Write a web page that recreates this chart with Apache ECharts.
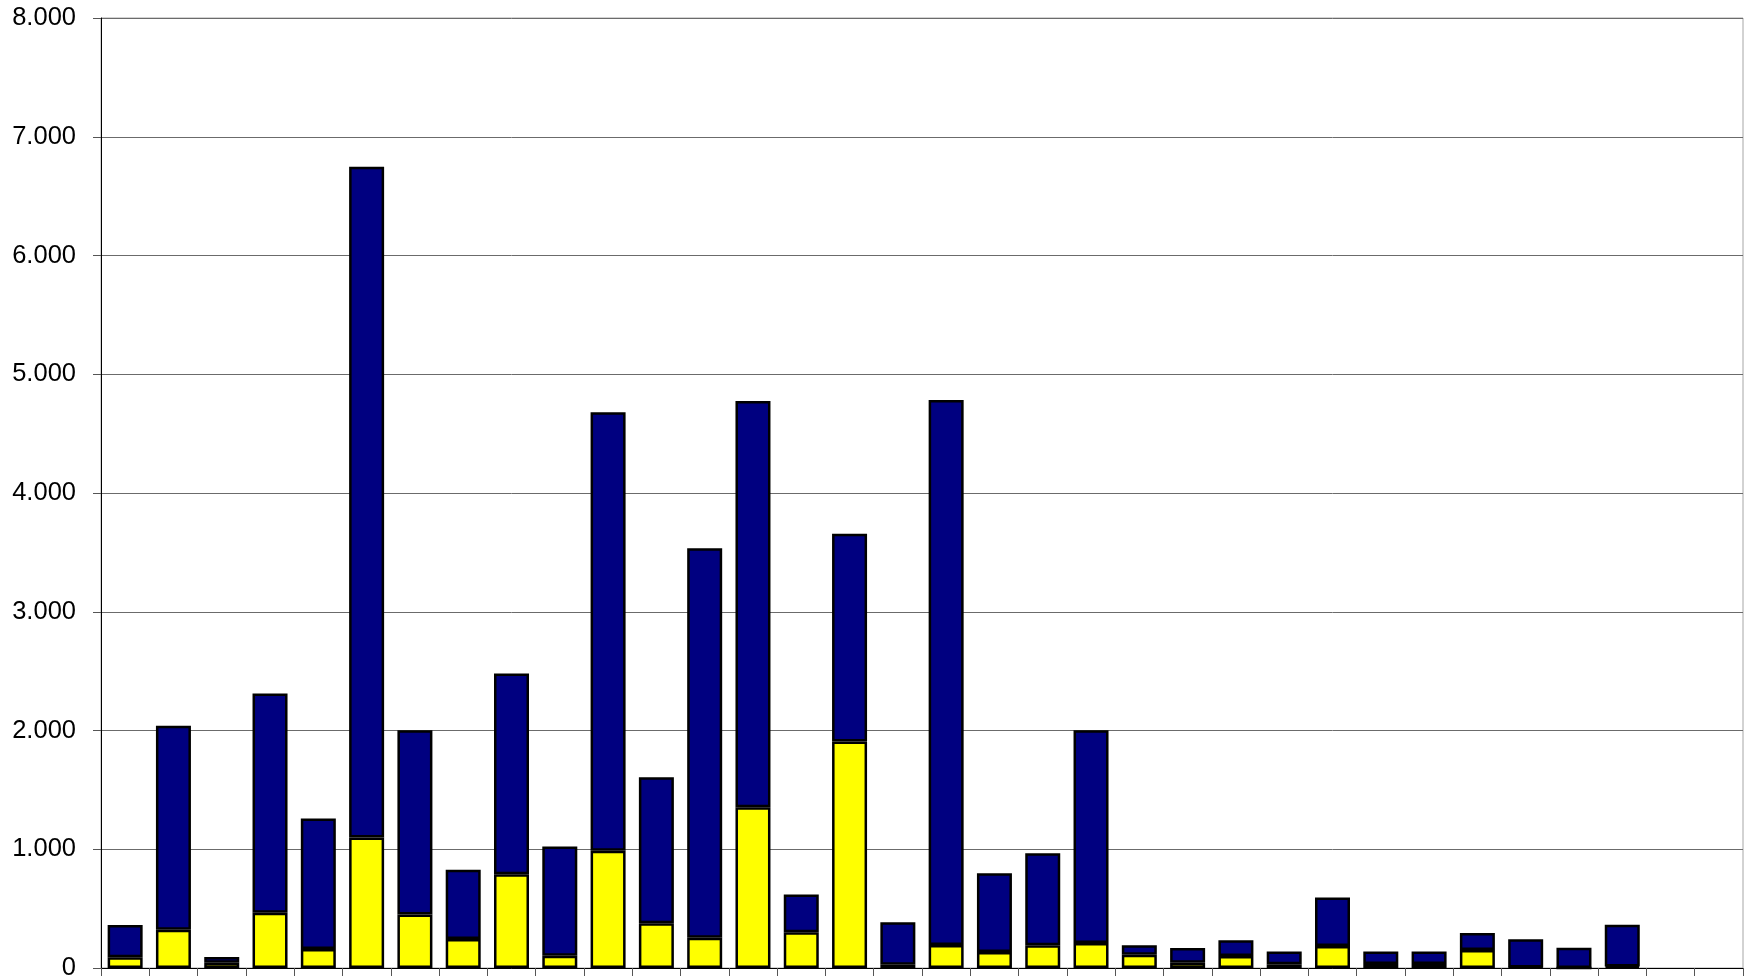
<!DOCTYPE html>
<html>
<head>
<meta charset="utf-8">
<script src="https://cdn.jsdelivr.net/npm/echarts@6/dist/echarts.min.js"></script>
<style>
html,body{margin:0;padding:0;background:#fff;}
#chart{width:1750px;height:976px;}
</style>
</head>
<body>
<div id="chart"></div>
<script>
const categories = ['1','2','3','4','5','6','7','8','9','10','11','12','13','14','15','16','17','18','19','20','21','22','23','24','25','26','27','28','29','30','31','32','33','34'];
const totals = [362, 2040, 93, 2312, 1259, 6748, 2002, 827, 2481, 1024, 4680, 1607, 3534, 4774, 620, 3656, 385, 4784, 798, 966, 2002, 191, 169, 233, 138, 593, 140, 138, 295, 242, 171, 365, null, null];
const yellowValues = [90, 323, 45, 466, 160, 1100, 451, 244, 789, 103, 987, 376, 254, 1353, 301, 1908, 28, 194, 135, 191, 211, 112, 45, 101, 31, 185, 34, 34, 152, 5, 0, 12, null, null];
const navyValues = totals.map((t, i) => t == null ? null : t - yellowValues[i]);
const yTicks = { min: 0, max: 8000, interval: 1000 };

const chart = echarts.init(document.getElementById('chart'), null, { renderer: 'canvas' });
const barStyle = (c) => ({ color: c, borderColor: '#000', borderWidth: 2.5 });
chart.setOption({
  animation: false,
  backgroundColor: '#fff',
  grid: { left: 101, right: 7, top: 18, bottom: 8, containLabel: false, outerBoundsMode: 'none', show: true, borderColor: '#a6a6a6', borderWidth: 1, backgroundColor: 'transparent' },
  xAxis: {
    type: 'category',
    data: categories,
    boundaryGap: true,
    axisLine: { lineStyle: { color: '#000', width: 1 } },
    axisTick: { show: true, length: 8, lineStyle: { color: '#555' }, alignWithLabel: false },
    axisLabel: { show: false },
    splitLine: { show: false }
  },
  yAxis: {
    type: 'value',
    min: yTicks.min, max: yTicks.max, interval: yTicks.interval,
    axisLine: { show: true, lineStyle: { color: '#000', width: 1 } },
    axisTick: { show: true, length: 8, lineStyle: { color: '#555' } },
    axisLabel: {
      margin: 25,
      fontFamily: 'Liberation Sans, Arial, sans-serif',
      fontSize: 25.5,
      color: '#000',
      formatter: v => v.toString().replace(/\B(?=(\d{3})+(?!\d))/g, '.')
    },
    splitLine: { show: true, lineStyle: { color: '#6b6b6b', width: 1 } }
  },
  series: [
    { type: 'bar', stack: 's', data: yellowValues, barWidth: 35, itemStyle: barStyle('#FFFF00') },
    { type: 'bar', stack: 's', data: navyValues, barWidth: 35, itemStyle: barStyle('#000080') }
  ]
});
</script>
</body>
</html>
